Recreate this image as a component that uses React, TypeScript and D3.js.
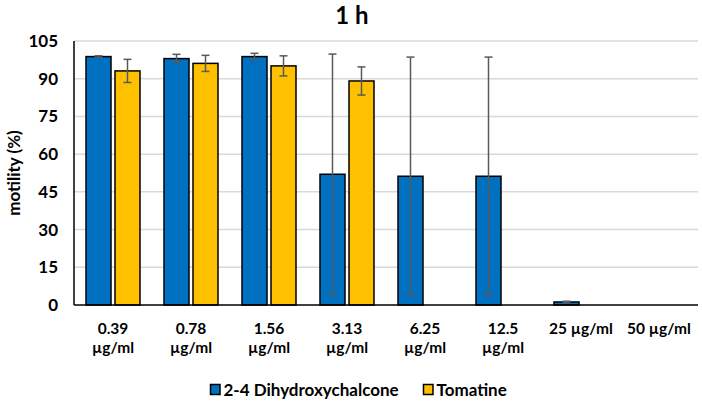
import React from "react";
import * as d3 from "d3";

const categories = ["0.39", "0.78", "1.56", "3.13", "6.25", "12.5", "25", "50"];
const xLabelLines = [
  ["0.39", "µg/ml"],
  ["0.78", "µg/ml"],
  ["1.56", "µg/ml"],
  ["3.13", "µg/ml"],
  ["6.25", "µg/ml"],
  ["12.5", "µg/ml"],
  ["25 µg/ml"],
  ["50 µg/ml"],
];
const seriesNames = ["2-4 Dihydroxychalcone", "Tomatine"];
const dihydroxyValues = [98.8, 98.0, 98.8, 52.0, 51.2, 51.2, 1.2, 0];
const dihydroxyErrors = [0.3, 1.7, 1.3, 47.8, 47.4, 47.4, 0.3, 0];
const tomatineValues: (number | null)[] = [93.1, 96.1, 95.1, 89.1, null, null, null, null];
const tomatineErrors: (number | null)[] = [4.6, 3.2, 4.0, 5.6, null, null, null, null];
const yTicks = [0, 15, 30, 45, 60, 75, 90, 105];
const colors = ["#0070C0", "#FFC000"];

const W = 702;
const H = 403;
const M = { left: 74, right: 698, top: 41, bottom: 305 };
const FONT = "Lato, 'Open Sans', sans-serif";

export default function App() {
  const x = d3.scaleBand<string>().domain(categories).range([M.left, M.right]).paddingInner(0).paddingOuter(0);
  const y = d3.scaleLinear().domain([0, 105]).range([M.bottom, M.top]);
  const bw = x.bandwidth();
  const barW = 25;
  const offsets = [-14.5, 14.5];
  const series = [
    { vals: dihydroxyValues as (number | null)[], errs: dihydroxyErrors as (number | null)[] },
    { vals: tomatineValues, errs: tomatineErrors },
  ];

  return (
    <svg width={W} height={H} style={{ position: "absolute", left: 0, top: 0, background: "#fff" }} fontFamily={FONT}>
      <rect x={0} y={0} width={W} height={H} fill="#fff" />
      <text x={352} y={24} textAnchor="middle" fontSize={24} fontWeight={700} fill="#000">1 h</text>

      {yTicks.map((t) => (
        <g key={t}>
          {t > 0 && (
            <line x1={M.left} x2={M.right} y1={y(t)} y2={y(t)} stroke="#D9D9D9" strokeWidth={1.5} />
          )}
          <text x={58} y={y(t) + 6} textAnchor="end" fontSize={17} fontWeight={700} fill="#000">{t}</text>
        </g>
      ))}

      <text transform={`translate(20,173) rotate(-90)`} textAnchor="middle" fontSize={17} fontWeight={700} fill="#000">
        motility (%)
      </text>

      {series.map((s, si) =>
        categories.map((c, i) => {
          const v = s.vals[i];
          if (v === null || v === undefined || v <= 0) return null;
          const cx = (x(c) as number) + bw / 2 + offsets[si];
          return (
            <rect key={`b${si}-${i}`} x={cx - barW / 2} y={y(v)} width={barW} height={y(0) - y(v)}
              fill={colors[si]} stroke="#000" strokeWidth={1.5} />
          );
        })
      )}

      {series.map((s, si) =>
        categories.map((c, i) => {
          const v = s.vals[i];
          const e = s.errs[i];
          if (v === null || e === null || v <= 0) return null;
          const cx = (x(c) as number) + bw / 2 + offsets[si];
          const y1 = y(v + e);
          const y2 = y(Math.max(0, v - e));
          return (
            <g key={`e${si}-${i}`} stroke="#595959" strokeWidth={1.5}>
              <line x1={cx} x2={cx} y1={y1} y2={y2} />
              <line x1={cx - 4} x2={cx + 4} y1={y1} y2={y1} />
              <line x1={cx - 4} x2={cx + 4} y1={y2} y2={y2} />
            </g>
          );
        })
      )}

      <line x1={M.left} x2={M.left} y1={M.top} y2={M.bottom} stroke="#000" strokeWidth={1.5} />
      <line x1={M.left} x2={M.right} y1={M.bottom} y2={M.bottom} stroke="#000" strokeWidth={1.5} />

      {categories.map((c, i) =>
        xLabelLines[i].map((ln, li) => (
          <text key={`xl${i}-${li}`} x={(x(c) as number) + bw / 2} y={334 + li * 19}
            textAnchor="middle" fontSize={15.5} fontWeight={700} fill="#000">{ln}</text>
        ))
      )}

      {seriesNames.map((n, si) => {
        const lx = si === 0 ? 210.5 : 423.5;
        return (
          <g key={`lg${si}`}>
            <rect x={lx} y={384.5} width={9.5} height={10} fill={colors[si]} stroke="#000" strokeWidth={1.5} />
            <text x={lx + 13} y={395.5} fontSize={17} fontWeight={700} fill="#000">{n}</text>
          </g>
        );
      })}
    </svg>
  );
}
